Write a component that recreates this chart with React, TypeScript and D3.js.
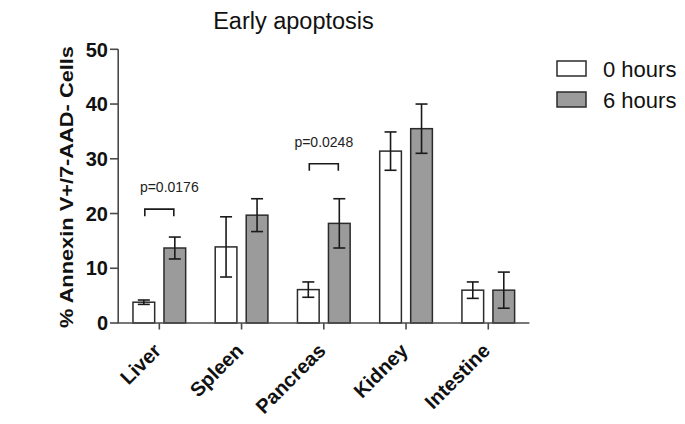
import React from "react";
import * as d3 from "d3";

const categories = ["Liver", "Spleen", "Pancreas", "Kidney", "Intestine"];
const seriesNames = ["0 hours", "6 hours"];
const mean0h = [3.8, 13.9, 6.1, 31.4, 6.0];
const err0h = [0.4, 5.5, 1.4, 3.5, 1.5];
const mean6h = [13.7, 19.7, 18.2, 35.5, 6.0];
const err6h = [2.0, 3.0, 4.5, 4.5, 3.3];
const yTicks = [0, 10, 20, 30, 40, 50];
const sigCategories = ["Liver", "Pancreas"];
const sigLevels = [20.8, 29.1];
const sigLabels = ["p=0.0176", "p=0.0248"];

const FONT = "'Liberation Sans', Arial, Helvetica, sans-serif";
const STROKE = "#2b2b2b";
const AXIS = "#4a4a4a";
const FILLS = ["#ffffff", "#9b9b9b"];

export default function App() {
  const W = 685;
  const H = 424;
  const x0 = d3.scaleBand<string>().domain(categories).range([118.2, 529.4]).padding(0);
  const x1 = d3
    .scaleBand<string>()
    .domain(seriesNames)
    .range([-31, 31])
    .paddingInner(0.3)
    .paddingOuter(0.15);
  const y = d3.scaleLinear().domain([0, 50]).range([323, 49.3]);
  const means = [mean0h, mean6h];
  const errs = [err0h, err6h];
  const bw = x1.bandwidth();
  const center = (c: string) => (x0(c) as number) + x0.bandwidth() / 2;
  const capHalf = 6;

  return (
    <svg
      width={W}
      height={H}
      style={{ position: "absolute", left: 0, top: 0, background: "#fff" }}
      fontFamily={FONT}
    >
      <rect x={0} y={0} width={W} height={H} fill="#fff" />
      {/* title */}
      <text x={293.5} y={28.5} fontSize={23.5} textAnchor="middle" fill="#111">
        Early apoptosis
      </text>

      {/* y axis label */}
      <text
        transform="translate(73,187) rotate(-90)"
        fontSize={18}
        fontWeight="bold"
        textAnchor="middle"
        textLength={282}
        lengthAdjust="spacingAndGlyphs"
        fill="#111"
      >
        % Annexin V+/7-AAD- Cells
      </text>

      {/* bars */}
      {seriesNames.map((s, si) =>
        categories.map((c, ci) => {
          const bx = center(c) + (x1(s) as number);
          const v = means[si][ci];
          return (
            <rect
              key={s + c}
              x={bx}
              y={y(v)}
              width={bw}
              height={y(0) - y(v)}
              fill={FILLS[si]}
              stroke={STROKE}
              strokeWidth={1.5}
            />
          );
        })
      )}

      {/* error bars */}
      {seriesNames.map((s, si) =>
        categories.map((c, ci) => {
          const cx = center(c) + (x1(s) as number) + bw / 2;
          const v = means[si][ci];
          const e = errs[si][ci];
          const top = y(v + e);
          const bot = y(Math.max(0, v - e));
          return (
            <g key={"e" + s + c} stroke="#1a1a1a" strokeWidth={1.6}>
              <line x1={cx} x2={cx} y1={top} y2={bot} />
              <line x1={cx - capHalf} x2={cx + capHalf} y1={top} y2={top} />
              <line x1={cx - capHalf} x2={cx + capHalf} y1={bot} y2={bot} />
            </g>
          );
        })
      )}

      {/* axes */}
      <line x1={118.2} x2={118.2} y1={y(50)} y2={y(0)} stroke={AXIS} strokeWidth={1.6} />
      <line x1={117.4} x2={529.4} y1={y(0)} y2={y(0)} stroke={AXIS} strokeWidth={1.6} />
      {yTicks.map((t) => (
        <g key={"yt" + t}>
          <line x1={110} x2={118.2} y1={y(t)} y2={y(t)} stroke={AXIS} strokeWidth={1.6} />
          <text
            x={108}
            y={y(t)}
            dy="0.36em"
            fontSize={20}
            fontWeight="bold"
            textAnchor="end"
            fill="#111"
          >
            {t}
          </text>
        </g>
      ))}
      {categories.map((c) => (
        <g key={"xt" + c}>
          <line x1={center(c)} x2={center(c)} y1={y(0)} y2={y(0) + 6.5} stroke={AXIS} strokeWidth={1.6} />
          <text
            transform={`translate(${center(c) + 3},${y(0) + 29}) rotate(-45)`}
            fontSize={20}
            fontWeight="bold"
            textAnchor="end"
            fill="#111"
          >
            {c}
          </text>
        </g>
      ))}

      {/* significance brackets */}
      {sigCategories.map((c, i) => {
        const xa = center(c) + (x1(seriesNames[0]) as number) + bw / 2 + 1;
        const xb = center(c) + (x1(seriesNames[1]) as number) + bw / 2 - 1;
        const ly = y(sigLevels[i]);
        const shift = i === 0 ? 10 : 0;
        return (
          <g key={"sig" + c}>
            <path
              d={`M${xa},${ly + 7}V${ly}H${xb}V${ly + 7}`}
              fill="none"
              stroke="#1a1a1a"
              strokeWidth={1.6}
            />
            <text
              x={center(c) + shift}
              y={ly - 17}
              fontSize={14}
              textAnchor="middle"
              fill="#222"
            >
              {sigLabels[i]}
            </text>
          </g>
        );
      })}

      {/* legend */}
      {seriesNames.map((s, i) => (
        <g key={"lg" + s} transform={`translate(557,${61 + i * 31})`}>
          <rect x={0} y={0} width={29} height={15} fill={FILLS[i]} stroke={STROKE} strokeWidth={1.5} />
          <text x={46} y={16} fontSize={22} fill="#111">
            {s}
          </text>
        </g>
      ))}
    </svg>
  );
}
